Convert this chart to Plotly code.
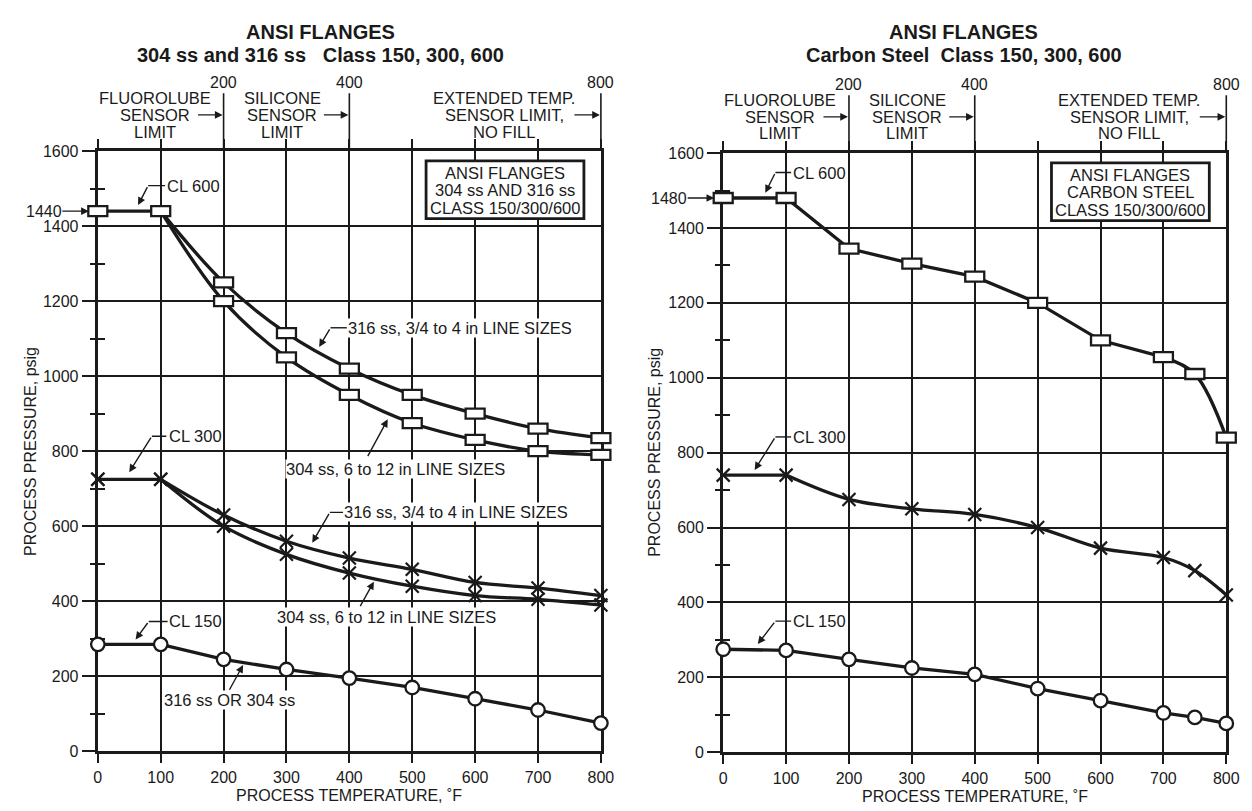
import plotly.graph_objects as go

W, H = 1252, 811

# ---------------- data ----------------
temps = [0, 100, 200, 300, 400, 500, 600, 700, 800]
ss316_cl600 = [1440, 1440, 1250, 1115, 1020, 950, 900, 860, 835]
ss304_cl600 = [1440, 1440, 1200, 1050, 950, 875, 830, 800, 790]
ss316_cl300 = [725, 725, 630, 560, 515, 485, 450, 435, 415]
ss304_cl300 = [725, 725, 600, 525, 475, 440, 415, 405, 390]
ss_cl150 = [285, 285, 245, 218, 195, 170, 140, 110, 75]

cs_temps = [0, 100, 200, 300, 400, 500, 600, 700, 750, 800]
cs_cl600 = [1480, 1480, 1345, 1305, 1270, 1200, 1100, 1055, 1010, 840]
cs_cl300 = [740, 740, 675, 650, 635, 600, 545, 520, 485, 420]
cs_cl150 = [275, 272, 248, 225, 208, 170, 138, 105, 93, 77]

x_ticks = [0, 100, 200, 300, 400, 500, 600, 700, 800]
y_ticks = [0, 200, 400, 600, 800, 1000, 1200, 1400, 1600]
y_minor = [100, 300, 500, 700, 900, 1100, 1300, 1500]
top_marks = [200, 400, 800]

# ---------------- layout helpers ----------------
def px(v):
    return v / W

def py(v):
    return 1 - v / H

FONT = "Liberation Sans, Arial, Helvetica, sans-serif"
FS = 16.5
TFS = 16
BLACK = "#1a1a1a"

panels = [
    dict(xl=87, xr=597, yt=138, yb=751, ax="", ex="3", mn="5"),
    dict(xl=721, xr=1231, yt=140, yb=752, ax="2", ex="4", mn="6"),
]

fig = go.Figure()
layout_axes = {}
XPAD, YPAD = 25, 60
for p in panels:
    dx = [px(p["xl"]), px(p["xr"])]
    dy = [py(p["yb"]), py(p["yt"])]
    a, e, m = p["ax"], p["ex"], p["mn"]
    layout_axes["xaxis" + a] = dict(
        domain=dx, range=[0, 800], anchor="y" + a,
        tickvals=x_ticks, ticks="outside", ticklen=9, tickwidth=1.6, tickcolor=BLACK,
        showgrid=True, gridcolor=BLACK, gridwidth=1.6,
        showline=True, linecolor=BLACK, linewidth=3.2, mirror="ticks",
        zeroline=False, tickfont=dict(size=TFS, color=BLACK, family=FONT),
        fixedrange=True,
    )
    layout_axes["yaxis" + a] = dict(
        domain=dy, range=[0, 1600], anchor="x" + a,
        tickvals=y_ticks, ticks="outside", ticklen=13, tickwidth=1.6, tickcolor=BLACK,
        minor=dict(tickvals=y_minor, ticks="inside", ticklen=7, tickwidth=1.6, tickcolor=BLACK, showgrid=False),
        showgrid=True, gridcolor=BLACK, gridwidth=1.6,
        showline=True, linecolor=BLACK, linewidth=3.2, mirror=True,
        zeroline=False, tickfont=dict(size=TFS, color=BLACK, family=FONT),
        fixedrange=True,
    )
    # outer half of the crossing minor ticks
    layout_axes["yaxis" + m] = dict(
        overlaying="y" + a, anchor="x" + a, side="left", range=[0, 1600],
        tickvals=y_minor, ticks="outside", ticklen=7, tickwidth=1.6, tickcolor=BLACK,
        showticklabels=False, showgrid=False, showline=False, zeroline=False, fixedrange=True,
    )
    # extended invisible axes with identical scale (so edge markers are not clipped)
    ux = (dx[1] - dx[0]) / 800
    uy = (dy[1] - dy[0]) / 1600
    layout_axes["xaxis" + e] = dict(
        domain=[dx[0] - XPAD * ux, dx[1] + XPAD * ux], range=[-XPAD, 800 + XPAD],
        anchor="y" + e, visible=False, fixedrange=True,
    )
    layout_axes["yaxis" + e] = dict(
        domain=[dy[0] - YPAD * uy, dy[1] + YPAD * uy], range=[-YPAD, 1600 + YPAD],
        anchor="x" + e, visible=False, fixedrange=True,
    )
    fig.add_trace(go.Scatter(x=[], y=[], xaxis="x" + a, yaxis="y" + a, showlegend=False))
    fig.add_trace(go.Scatter(x=[], y=[], xaxis="x" + a, yaxis="y" + m, showlegend=False))

LW = 3.3
shapes = []
annotations = []

def line_trace(xs, ys, ex, shape="linear"):
    fig.add_trace(go.Scatter(
        x=xs, y=ys, mode="lines", xaxis="x" + ex, yaxis="y" + ex,
        line=dict(color=BLACK, width=LW, shape=shape, smoothing=1.0),
        showlegend=False, cliponaxis=False, hoverinfo="skip",
    ))

def rect_markers(xs, ys, ex):
    for xv, yv in zip(xs, ys):
        shapes.append(dict(
            type="rect", xref="x" + ex, yref="y" + ex,
            xsizemode="pixel", ysizemode="pixel", xanchor=xv, yanchor=yv,
            x0=-9.5, x1=9.5, y0=-5, y1=5,
            fillcolor="white", line=dict(color=BLACK, width=2.3), layer="above",
        ))

def x_markers(xs, ys, ex):
    fig.add_trace(go.Scatter(
        x=xs, y=ys, mode="markers", xaxis="x" + ex, yaxis="y" + ex,
        marker=dict(symbol="x-thin", size=13, line=dict(color=BLACK, width=2.2)),
        showlegend=False, cliponaxis=False, hoverinfo="skip",
    ))

def circ_markers(xs, ys, ex):
    fig.add_trace(go.Scatter(
        x=xs, y=ys, mode="markers", xaxis="x" + ex, yaxis="y" + ex,
        marker=dict(symbol="circle", size=13.5, color="white", line=dict(color=BLACK, width=2.3)),
        showlegend=False, cliponaxis=False, hoverinfo="skip",
    ))

# ---------- left panel (stainless) ----------
e = "3"
line_trace(temps[:2], ss316_cl600[:2], e)
line_trace(temps[1:], ss316_cl600[1:], e, "spline")
line_trace(temps[1:], ss304_cl600[1:], e, "spline")
line_trace(temps[:2], ss316_cl300[:2], e)
line_trace(temps[1:], ss316_cl300[1:], e, "spline")
line_trace(temps[1:], ss304_cl300[1:], e, "spline")
line_trace(temps, ss_cl150, e)
x_markers(temps, ss316_cl300, e)
x_markers(temps, ss304_cl300, e)
circ_markers(temps, ss_cl150, e)
rect_markers(temps, ss316_cl600, e)
rect_markers(temps[2:], ss304_cl600[2:], e)

# ---------- right panel (carbon steel) ----------
e = "4"
line_trace(cs_temps[:8], cs_cl600[:8], e)
line_trace(cs_temps[7:], cs_cl600[7:], e, "spline")
line_trace(cs_temps[:2], cs_cl300[:2], e)
line_trace(cs_temps[1:], cs_cl300[1:], e, "spline")
line_trace(cs_temps, cs_cl150, e)
x_markers(cs_temps, cs_cl300, e)
circ_markers(cs_temps, cs_cl150, e)
rect_markers(cs_temps, cs_cl600, e)

# ---------- decorations ----------
def text(x, y, s, xref="paper", yref="paper", xanchor="center", yanchor="middle", size=FS, **kw):
    annotations.append(dict(x=x, y=y, xref=xref, yref=yref, text=s, showarrow=False,
                            xanchor=xanchor, yanchor=yanchor,
                            font=dict(size=size, color=BLACK, family=FONT), **kw))

def arrow(x, y, ax, ay, xref, yref, axref="pixel", ayref="pixel", standoff=0):
    annotations.append(dict(x=x, y=y, xref=xref, yref=yref, ax=ax, ay=ay,
                            axref=axref, ayref=ayref, text="", showarrow=True,
                            arrowhead=2, arrowsize=1.1, arrowwidth=1.4, arrowcolor=BLACK,
                            standoff=standoff))

def callout(label, tx, ty, hx0, hx1, tipx, tipy, a):
    # horizontal leader + diagonal arrow + label
    shapes.append(dict(type="line", xref="x" + a, yref="y" + a, x0=hx0, x1=hx1, y0=ty, y1=ty,
                       line=dict(color=BLACK, width=1.4), layer="above"))
    arrow(tipx, tipy, hx0, ty, "x" + a, "y" + a, axref="x" + a, ayref="y" + a)
    text(tx, ty, label, xref="x" + a, yref="y" + a, xanchor="left", bgcolor="white",
         borderpad=0)

def value_arrow(label, yv, a):
    annotations.append(dict(x=0, y=yv, xref="x" + a, yref="y" + a, ax=-54, ay=0, text=label,
                            showarrow=True, arrowhead=2, arrowsize=1.1, arrowwidth=1.4,
                            arrowcolor=BLACK, standoff=9, borderpad=0,
                            font=dict(size=TFS, color=BLACK, family=FONT)))

title_l1 = ["ANSI FLANGES", "ANSI FLANGES"]
title_l2 = ["304 ss and 316 ss&nbsp;&nbsp; Class 150, 300, 600",
            "Carbon Steel&nbsp; Class 150, 300, 600"]
title_x = [313, 965]
box_lines = [
    ["ANSI FLANGES", "304 ss AND 316 ss", "CLASS 150/300/600"],
    ["ANSI FLANGES", "CARBON STEEL", "CLASS 150/300/600"],
]
limit_labels = [
    (91, ["FLUOROLUBE", "SENSOR", "LIMIT"]),
    (293, ["SILICONE", "SENSOR", "LIMIT"]),
    (646, ["EXTENDED TEMP.", "SENSOR LIMIT,", "NO FILL"]),
]
for i, p in enumerate(panels):
    a, e = p["ax"], p["ex"]
    t = p["yt"]
    text(px(title_x[i]), py(16), "<b>" + title_l1[i] + "</b>", size=20)
    text(px(title_x[i]), py(40), "<b>" + title_l2[i] + "</b>", size=20)
    # y/x axis titles
    text(px(p["xl"] - 69), py((p["yt"] + p["yb"]) / 2), "PROCESS PRESSURE, psig", textangle=-90, size=TFS)
    text(px((p["xl"] + p["xr"]) / 2), py(p["yb"] + 45), "PROCESS TEMPERATURE, ˚F", size=TFS)
    # long top extension lines + labels
    for tm in top_marks:
        shapes.append(dict(type="line", xref="x" + e, yref="paper", x0=tm, x1=tm,
                           y0=py(t), y1=py(t - 59),
                           line=dict(color=BLACK, width=1.6), layer="above"))
        text(tm, py(t - 70), str(tm), xref="x" + a, size=TFS)
    # sensor limit labels (three lines each, tight spacing)
    for xc, lines in limit_labels:
        for k, s in enumerate(lines):
            text(xc, py(t - 54 + 17 * k), s, xref="x" + a)
    for tm, off in [(200, -27), (400, -27), (800, -28)]:
        arrow(tm, py(t - 37), off, 0, "x" + e, "paper", standoff=1)
    # legend box
    shapes.append(dict(type="rect", xref="x" + a, yref="paper", x0=522, x1=773,
                       y0=py(t + 10), y1=py(t + 69), fillcolor="white",
                       line=dict(color=BLACK, width=2.8), layer="above"))
    for k, s in enumerate(box_lines[i]):
        text(647, py(t + 22 + 18 * k), s, xref="x" + a)

# left panel callouts
callout("CL 600", 109, 1508, 80, 107, 64, 1456, "")
value_arrow("1440", 1440, "")
callout("CL 300", 111, 840, 86, 109, 50, 744, "")
callout("CL 150", 112, 346, 81, 111, 60, 298, "")
callout("316 ss, 3/4 to 4 in LINE SIZES", 396, 1129, 370, 396, 352, 1078, "")
text(473, 752, "304 ss, 6 to 12 in LINE SIZES", xref="x", yref="y", bgcolor="white", borderpad=0)
arrow(461, 885, 428, 783, "x", "y", axref="x", ayref="y")
callout("316 ss, 3/4 to 4 in LINE SIZES", 390, 637, 369, 390, 341, 556, "")
text(459, 357, "304 ss, 6 to 12 in LINE SIZES", xref="x", yref="y", bgcolor="white", borderpad=0)
arrow(439, 452, 416, 383, "x", "y", axref="x", ayref="y")
text(210, 137, "316 ss OR 304 ss", xref="x", yref="y", bgcolor="white", borderpad=0)
arrow(231, 230, 208, 160, "x", "y", axref="x", ayref="y")

# right panel callouts
callout("CL 600", 110, 1548, 83, 108, 67, 1494, "2")
value_arrow("1480", 1480, "2")
callout("CL 300", 110, 842, 83, 108, 50, 754, "2")
callout("CL 150", 110, 350, 83, 108, 55, 289, "2")

fig.update_layout(
    width=W, height=H,
    margin=dict(l=0, r=0, t=0, b=0),
    paper_bgcolor="white", plot_bgcolor="rgba(0,0,0,0)",
    font=dict(family=FONT, size=FS, color=BLACK),
    showlegend=False,
    shapes=shapes, annotations=annotations,
    **layout_axes,
)

fig.write_html("out.html")
